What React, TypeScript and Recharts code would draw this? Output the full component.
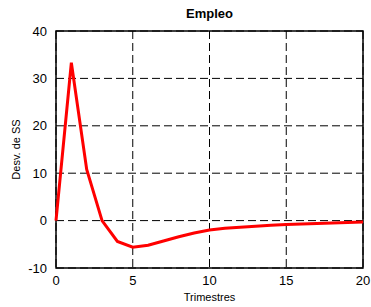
import { CartesianGrid, Line, LineChart, ReferenceArea, XAxis, YAxis } from "recharts";

const quarters = [0, 1, 2, 3, 4, 5, 6, 7, 8, 9, 10, 11, 12, 13, 14, 15, 16, 17, 18, 19, 20];
const empleo = [0, 33.3, 10.8, 0, -4.4, -5.6, -5.2, -4.3, -3.4, -2.6, -2.0, -1.6, -1.4, -1.2, -1.0, -0.8, -0.7, -0.6, -0.5, -0.4, -0.3];
const xTicks = [0, 5, 10, 15, 20];
const yTicks = [-10, 0, 10, 20, 30, 40];

const data = quarters.map((q, i) => ({ q, v: empleo[i] }));

const FONT = "'Liberation Sans', Arial, sans-serif";

export default function App() {
  return (
    <div style={{ position: "absolute", left: 0, top: 0, width: 371, height: 307, background: "#fff" }}>
      <div
        style={{
          position: "absolute",
          left: 0,
          width: 371,
          top: 6,
          textAlign: "center",
          fontFamily: FONT,
          fontWeight: "bold",
          fontSize: 13,
          paddingLeft: 48,
          boxSizing: "border-box",
        }}
      >
        Empleo
      </div>
      <LineChart
        width={371}
        height={307}
        data={data}
        margin={{ top: 31, right: 8, bottom: 0, left: 0 }}
        style={{ fontFamily: FONT }}
      >
        <CartesianGrid stroke="#000" strokeDasharray="8 4" strokeWidth={1} />
        <XAxis
          dataKey="q"
          type="number"
          domain={[0, 20]}
          ticks={xTicks}
          interval={0}
          axisLine={false}
          tickLine={false}
          tick={{ fontSize: 13, fill: "#000" }}
          tickMargin={2}
          height={39}
          label={{ value: "Trimestres", position: "insideBottom", offset: 6, fontSize: 11, fill: "#000" }}
        />
        <YAxis
          type="number"
          domain={[-10, 40]}
          ticks={yTicks}
          interval={0}
          axisLine={false}
          tickLine={false}
          tick={{ fontSize: 13, fill: "#000" }}
          tickMargin={3}
          width={56}
          label={{ value: "Desv. de SS", angle: -90, position: "insideLeft", offset: 16, fontSize: 11, fill: "#000", style: { textAnchor: "middle" } }}
        />
        <ReferenceArea x1={0} x2={20} y1={-10} y2={40} fill="none" stroke="#000" strokeWidth={1.5} ifOverflow="visible" />
        <Line
          type="linear"
          dataKey="v"
          stroke="#ff0000"
          strokeWidth={3}
          dot={false}
          isAnimationActive={false}
        />
      </LineChart>
    </div>
  );
}
